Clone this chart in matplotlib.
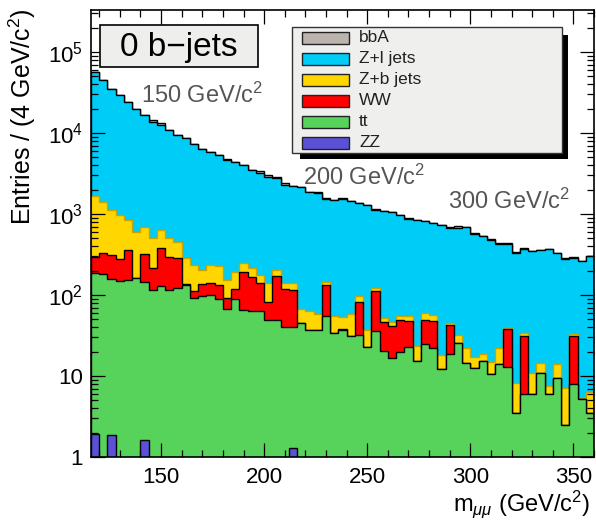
import numpy as np
import matplotlib
matplotlib.use("Agg")
import matplotlib.pyplot as plt
from matplotlib.ticker import MultipleLocator, LogLocator, FuncFormatter, NullFormatter
from matplotlib.patches import Rectangle

plt.rcParams['font.family'] = ['Liberation Sans', 'DejaVu Sans']
plt.rcParams['mathtext.fontset'] = 'custom'
plt.rcParams['mathtext.rm'] = 'Liberation Sans'
plt.rcParams['mathtext.it'] = 'Liberation Sans:italic'
plt.rcParams['mathtext.bf'] = 'Liberation Sans:bold'

# dimuon invariant mass binning: 4 GeV/c^2 bins from 116 to 360
bin_edges = np.arange(116, 361, 4)

processes = ["ZZ", "tt", "WW", "Z+b jets", "Z+l jets", "bbA"]
legend_order = ["bbA", "Z+l jets", "Z+b jets", "WW", "tt", "ZZ"]

zz = [1.9, 0, 1.85, 0, 0, 0, 1.6, 0, 0, 0,
      0, 0, 0, 0, 0, 0, 0, 0, 0, 0,
      0, 0, 0, 0, 1.3, 0, 0, 0, 0, 0,
      0, 0, 0, 0, 0, 0, 0, 0, 0, 0,
      0, 0, 0, 0, 0, 0, 0, 0, 0, 0,
      0, 0, 0, 0, 0, 0, 0, 0, 0, 0,
      0]
tt = [183, 183, 154, 148, 153, 162, 142, 114, 131, 115,
      122, 134, 92, 97, 100, 88, 68, 88, 66, 64,
      64, 49, 49, 40, 39, 45, 37, 37, 55, 34,
      37, 31.5, 32, 23, 36, 20.4, 16.8, 19.6, 23, 15.5,
      24.6, 22, 12.2, 18.7, 25.3, 14.3, 12.4, 15.5, 10.6, 14.1,
      12.8, 3.46, 6.0, 6.0, 11, 6.0, 9.4, 2.48, 7.9, 5.15,
      3.46]
ww = [112, 150, 154, 127, 207, 0, 176, 99, 253, 177,
      161, 2, 20, 38, 40, 45, 23, 31, 124, 104,
      75, 34, 123, 77, 75, 0, 0, 0, 77, 0,
      1, 0, 51, 0, 76, 25.6, 24.6, 29.5, 25.2, 0,
      24.5, 25.8, 0, 23.9, 0, 0, 0, 0, 0, 0,
      24.9, 0, 25.2, 0, 0, 0, 0, 0, 23.6, 0,
      0]
zb = [1373, 1087, 810, 695, 485, 438, 365, 287, 251, 208,
      172, 149, 123, 70, 92, 95, 62, 75, 61, 45,
      38, 59, 32, 25, 24, 23, 27, 22, 14, 21,
      16, 26.5, 14, 14, 9, 5.5, 5.6, 6.5, 7.4, 8,
      10.3, 8.8, 6, 2.9, 6.7, 7.7, 4.9, 3.2, 4.4, 7.9,
      1.8, 4.64, 2.4, 4.8, 3.6, 1.5, 4.7, 4.72, 1.5, 0.15,
      2.94]
zl = [55180, 43460, 33780, 28440, 23075, 18930, 15955, 13200, 11865, 10350,
      8900, 8275, 7130, 6165, 5638, 5097, 4552, 4206, 3759, 3257,
      2988, 2738, 2611, 2138, 2069, 2057, 1811, 1781, 1407, 1426,
      1497, 1396, 1275, 1245, 1014, 1042, 1013, 910, 823, 815,
      764, 720, 708, 635, 634, 665, 556, 513, 469, 409,
      392, 326, 341, 336, 343, 358, 317, 275, 257, 256,
      294]
bba = [150, 120, 100, 90, 80, 70, 60, 700, 900, 50,
       45, 40, 35, 30, 30, 25, 25, 20, 20, 20,
       230, 150, 20, 160, 12, 12, 10, 10, 10, 9,
       9, 8, 8, 8, 7, 7, 7, 6, 6, 6,
       5, 5, 5, 5, 45, 3, 3, 3, 3, 3,
       3, 2, 2, 2, 2, 2, 2, 2, 2, 2,
       2]

fill_colors = {"ZZ": "#5a52d6", "tt": "#57d25b", "WW": "#ff0000",
               "Z+b jets": "#ffd600", "Z+l jets": "#00ccf8", "bbA": "#bbb4ad"}
line_colors = {"ZZ": "black", "tt": "black", "WW": "black",
               "Z+b jets": "#c9a400", "Z+l jets": "black", "bbA": "black"}

mass_labels = ["150", "200", "300"]

W, H = 596, 521
fig = plt.figure(figsize=(W / 100, H / 100), dpi=100)


def fx(x):
    return x / W


def fy(y):
    return 1 - y / H


ax = fig.add_axes([fx(91), fy(457), (594 - 91) / W, (457 - 10) / H])
ax.set_yscale('log')

# cumulative stack, drawn from the top layer down
series = np.vstack([zz, tt, ww, zb, zl, bba]).astype(float)
stack = np.cumsum(series, axis=0)
floor = 1e-3
for name, level in reversed(list(zip(processes, stack))):
    ax.stairs(np.clip(level, floor, None), bin_edges, baseline=floor, fill=True,
              facecolor=fill_colors[name], edgecolor=line_colors[name],
              linewidth=1.0, zorder=2)

ax.set_xlim(bin_edges[0], bin_edges[-1])
ax.set_ylim(1, 10 ** (447 / 81))

ax.xaxis.set_major_locator(MultipleLocator(50))
ax.xaxis.set_minor_locator(MultipleLocator(10))
ax.yaxis.set_major_locator(LogLocator(base=10, numticks=10))
ax.yaxis.set_minor_locator(LogLocator(base=10, subs=np.arange(2, 10), numticks=20))
ax.yaxis.set_minor_formatter(NullFormatter())


def decade_label(v, pos):
    e = int(round(np.log10(v)))
    if e == 0:
        return '1'
    if e == 1:
        return '10'
    return r'$10^{%d}$' % e


ax.yaxis.set_major_formatter(FuncFormatter(decade_label))
ax.tick_params(which='both', direction='in', top=True, right=True, width=0.9,
               labelsize=16, zorder=5)
ax.tick_params(which='major', length=10)
ax.tick_params(which='minor', length=5)
ax.tick_params(axis='x', pad=7)
ax.tick_params(axis='y', pad=6)
for s in ax.spines.values():
    s.set_linewidth(1.2)
    s.set_zorder(6)
ax.set_axisbelow(False)

# axis titles
fig.text(fx(590), fy(511), r'm$_{\mu\mu}$ (GeV/c$^{2}$)', ha='right', va='baseline', fontsize=17)
fig.text(fx(22), fy(8), r'Entries / (4 GeV/c$^{2}$)', ha='center', va='top',
         rotation=90, fontsize=18)

# mass hypothesis annotations
for txt, (x, y) in zip(mass_labels, [(141, 103), (303, 185), (448, 209)]):
    fig.text(fx(x), fy(y), txt + r' GeV/c$^{2}$', ha='left', va='baseline',
             fontsize=17, color='#555555')

# category box
fig.add_artist(Rectangle((fx(100), fy(67)), (258 - 100) / W, (67 - 25) / H,
                         transform=fig.transFigure, facecolor='#eeeeec',
                         edgecolor='black', linewidth=1.2, zorder=8))
fig.text(fx(179), fy(47), '0 b\u2212jets', ha='center', va='center', fontsize=24, zorder=9)

# legend with drop shadow
fig.add_artist(Rectangle((fx(300), fy(159)), (568 - 300) / W, (159 - 35) / H,
                         transform=fig.transFigure, facecolor='black',
                         edgecolor='none', zorder=8))
fig.add_artist(Rectangle((fx(292), fy(153)), (562 - 292) / W, (153 - 27) / H,
                         transform=fig.transFigure, facecolor='#eff0ee',
                         edgecolor='#333333', linewidth=1.0, zorder=9))
for k, name in enumerate(legend_order):
    yc = 37.6 + 21 * k
    fig.add_artist(Rectangle((fx(302), fy(yc + 6)), (349 - 302) / W, 12 / H,
                             transform=fig.transFigure, facecolor=fill_colors[name],
                             edgecolor='#222222', linewidth=1.0, zorder=10))
    fig.text(fx(359), fy(yc), name, ha='left', va='center', fontsize=12.5,
             color='#222222', zorder=10)

fig.savefig('out.png', dpi=100)
